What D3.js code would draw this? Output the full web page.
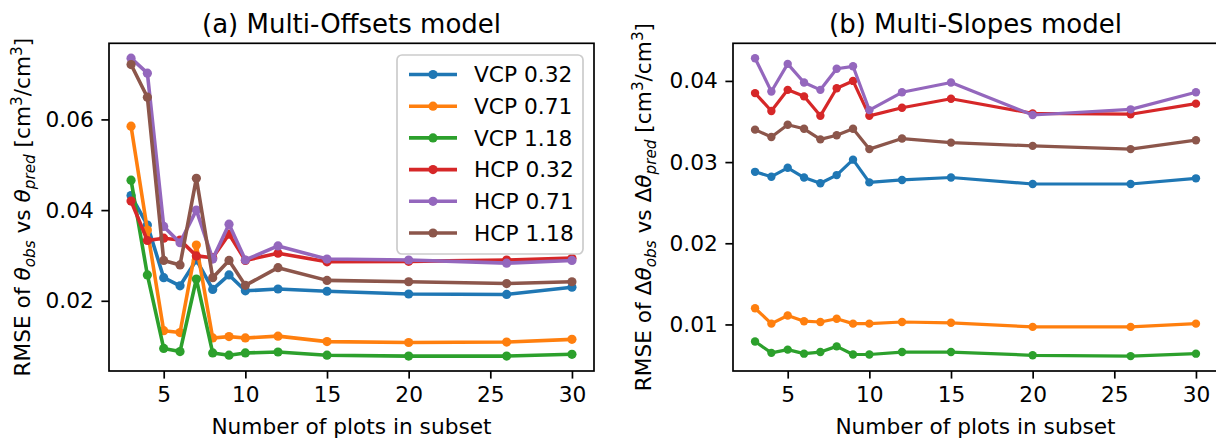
<!DOCTYPE html>
<html>
<head>
<meta charset="utf-8">
<script src="https://cdn.jsdelivr.net/npm/d3@7"></script>
<style>
  body { margin: 0; background: #fff; }
  svg text { font-family: "DejaVu Sans", sans-serif; fill: #000; }
</style>
</head>
<body>
<div id="chart"></div>
<script>
// number of plots in each subset
const nPlots = [3, 4, 5, 6, 7, 8, 9, 10, 12, 15, 20, 26, 30];

const seriesNames = ["VCP 0.32", "VCP 0.71", "VCP 1.18", "HCP 0.32", "HCP 0.71", "HCP 1.18"];
const colors = ["#1f77b4", "#ff7f0e", "#2ca02c", "#d62728", "#9467bd", "#8c564b"];

// (a) Multi-Offsets model, RMSE of theta
const offVcp032 = [0.0432, 0.0367, 0.0251, 0.0233, 0.0290, 0.0225, 0.0257, 0.0222, 0.0226, 0.0221, 0.0215, 0.0214, 0.0230];
const offVcp071 = [0.0585, 0.0356, 0.0134, 0.0130, 0.0323, 0.0118, 0.0121, 0.0118, 0.0122, 0.0110, 0.0108, 0.0109, 0.0115];
const offVcp118 = [0.0466, 0.0257, 0.0095, 0.0088, 0.0248, 0.0085, 0.0080, 0.0085, 0.0087, 0.0080, 0.0078, 0.0078, 0.0082];
const offHcp032 = [0.0420, 0.0333, 0.0338, 0.0334, 0.0299, 0.0295, 0.0347, 0.0289, 0.0305, 0.0286, 0.0287, 0.0290, 0.0294];
const offHcp071 = [0.0735, 0.0702, 0.0364, 0.0328, 0.0400, 0.0292, 0.0369, 0.0290, 0.0321, 0.0292, 0.0290, 0.0283, 0.0289];
const offHcp118 = [0.0721, 0.0649, 0.0289, 0.0279, 0.0470, 0.0251, 0.0289, 0.0234, 0.0273, 0.0245, 0.0242, 0.0238, 0.0242];

// (b) Multi-Slopes model, RMSE of delta theta
const slpVcp032 = [0.0288, 0.0282, 0.0293, 0.0281, 0.0274, 0.0284, 0.0303, 0.0275, 0.0278, 0.0281, 0.0273, 0.0273, 0.0280];
const slpVcp071 = [0.0120, 0.0101, 0.0111, 0.0104, 0.0103, 0.0107, 0.0101, 0.0101, 0.0103, 0.0102, 0.0097, 0.0097, 0.0101];
const slpVcp118 = [0.0079, 0.0065, 0.0069, 0.0064, 0.0066, 0.0073, 0.0063, 0.0063, 0.0066, 0.0066, 0.0062, 0.0061, 0.0064];
const slpHcp032 = [0.0385, 0.0363, 0.0389, 0.0381, 0.0357, 0.0391, 0.0400, 0.0357, 0.0367, 0.0378, 0.0360, 0.0359, 0.0372];
const slpHcp071 = [0.0428, 0.0387, 0.0421, 0.0398, 0.0389, 0.0415, 0.0418, 0.0364, 0.0386, 0.0398, 0.0358, 0.0365, 0.0386];
const slpHcp118 = [0.0340, 0.0331, 0.0346, 0.0341, 0.0328, 0.0333, 0.0341, 0.0316, 0.0329, 0.0324, 0.0320, 0.0316, 0.0327];

const xTicks = [5, 10, 15, 20, 25, 30];
const yTicksA = [0.02, 0.04, 0.06];
const yTicksB = [0.01, 0.02, 0.03, 0.04];

const W = 1216, H = 441;
const fs = 21.7;          // base font size (10pt)
const tickLen = 7.6, tickPad = 7.6;

const svg = d3.select("#chart").append("svg")
  .attr("width", W).attr("height", H);

// matplotlib-like 5% padding around data
function padded(lo, hi) {
  const m = (hi - lo) * 0.05;
  return [lo - m, hi + m];
}

function drawPanel(opts) {
  const { left, right, top, bottom, series, yTicks, title, lw, r } = opts;

  const x = d3.scaleLinear()
    .domain(padded(d3.min(nPlots), d3.max(nPlots)))
    .range([left, right]);
  const all = series.flat();
  const y = d3.scaleLinear()
    .domain(padded(d3.min(all), d3.max(all)))
    .range([bottom, top]);

  const g = svg.append("g");

  // lines + markers
  series.forEach((vals, i) => {
    const pts = nPlots.map((n, j) => [n, vals[j]]);
    g.append("path")
      .datum(pts)
      .attr("fill", "none")
      .attr("stroke", colors[i])
      .attr("stroke-width", lw)
      .attr("stroke-linejoin", "round")
      .attr("d", d3.line().x(d => x(d[0])).y(d => y(d[1])));
    g.selectAll(null)
      .data(pts)
      .enter().append("circle")
      .attr("cx", d => x(d[0]))
      .attr("cy", d => y(d[1]))
      .attr("r", r)
      .attr("fill", colors[i]);
  });

  // axes
  const xAxis = g.append("g")
    .attr("transform", `translate(0,${bottom})`)
    .call(d3.axisBottom(x).tickValues(xTicks).tickSize(tickLen).tickPadding(tickPad));
  const yAxis = g.append("g")
    .attr("transform", `translate(${left},0)`)
    .call(d3.axisLeft(y).tickValues(yTicks).tickFormat(d3.format(".2f")).tickSize(tickLen).tickPadding(tickPad));

  [xAxis, yAxis].forEach(a => {
    a.select(".domain").remove();
    a.selectAll(".tick line").attr("stroke", "#000").attr("stroke-width", 1.7);
    a.selectAll(".tick text")
      .style("font-size", fs + "px")
      .style("font-family", "DejaVu Sans");
  });
  xAxis.selectAll(".tick text").attr("dy", "0.74em");

  // frame
  g.append("rect")
    .attr("x", left).attr("y", top)
    .attr("width", right - left).attr("height", bottom - top)
    .attr("fill", "none")
    .attr("stroke", "#000")
    .attr("stroke-width", 1.7);

  // title
  g.append("text")
    .attr("x", (left + right) / 2)
    .attr("y", top - 10)
    .attr("text-anchor", "middle")
    .style("font-size", "26px")
    .text(title);

  // x label
  g.append("text")
    .attr("x", (left + right) / 2)
    .attr("y", 434)
    .attr("text-anchor", "middle")
    .style("font-size", fs + "px")
    .text("Number of plots in subset");

  return { x, y, g };
}

function yLabel(cx, cy, delta) {
  const t = svg.append("text")
    .attr("transform", `translate(${cx},${cy}) rotate(-90)`)
    .attr("text-anchor", "middle")
    .attr("dy", "0.35em")
    .style("font-size", fs + "px");
  const sub = fs * 0.7;
  t.append("tspan").text("RMSE of " + (delta ? "Δ" : ""));
  t.append("tspan").style("font-style", "italic").text("θ");
  t.append("tspan").attr("dy", 5).style("font-size", sub + "px").style("font-style", "italic").text("obs");
  t.append("tspan").attr("dy", -5).text(" vs " + (delta ? "Δ" : ""));
  t.append("tspan").style("font-style", "italic").text("θ");
  t.append("tspan").attr("dy", 5).style("font-size", sub + "px").style("font-style", "italic").text("pred");
  t.append("tspan").attr("dy", -5).text(" [cm");
  t.append("tspan").attr("dy", -8).style("font-size", sub + "px").text("3");
  t.append("tspan").attr("dy", 8).text("/cm");
  t.append("tspan").attr("dy", -8).style("font-size", sub + "px").text("3");
  t.append("tspan").attr("dy", 8).text("]");
}

const plotTop = 43.3, plotBottom = 371;

const panelA = drawPanel({
  left: 109, right: 594, top: plotTop, bottom: plotBottom,
  series: [offVcp032, offVcp071, offVcp118, offHcp032, offHcp071, offHcp118],
  yTicks: yTicksA, title: "(a) Multi-Offsets model", lw: 3.6, r: 4.6
});

const panelB = drawPanel({
  left: 733, right: 1218, top: plotTop, bottom: plotBottom,
  series: [slpVcp032, slpVcp071, slpVcp118, slpHcp032, slpHcp071, slpHcp118],
  yTicks: yTicksB, title: "(b) Multi-Slopes model", lw: 3.2, r: 4.2
});

yLabel(22, (plotTop + plotBottom) / 2, false);
yLabel(643, (plotTop + plotBottom) / 2, true);

// legend in panel (a)
const lg = svg.append("g").attr("transform", "translate(397,55)");
lg.append("rect")
  .attr("width", 186).attr("height", 199)
  .attr("rx", 5).attr("ry", 5)
  .attr("fill", "#fff").attr("fill-opacity", 0.8)
  .attr("stroke", "#cccccc").attr("stroke-width", 1.7);
seriesNames.forEach((name, i) => {
  const yy = 19.5 + i * 31.7;
  lg.append("line")
    .attr("x1", 12).attr("x2", 60)
    .attr("y1", yy).attr("y2", yy)
    .attr("stroke", colors[i]).attr("stroke-width", 3.6);
  lg.append("circle")
    .attr("cx", 36).attr("cy", yy).attr("r", 4.6)
    .attr("fill", colors[i]);
  lg.append("text")
    .attr("x", 77).attr("y", yy)
    .attr("dy", "0.36em")
    .style("font-size", fs + "px")
    .text(name);
});
</script>
</body>
</html>
